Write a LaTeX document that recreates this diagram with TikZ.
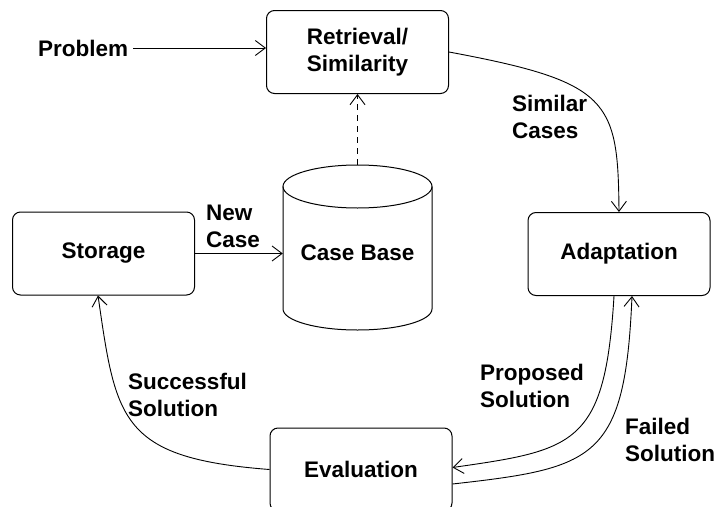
\documentclass[tikz,border=0pt]{standalone}
\usepackage{fontspec}
\setmainfont{Liberation Sans}
\usetikzlibrary{arrows.meta}
\begin{document}
\begin{tikzpicture}[x=1pt,y=-1pt,
  every node/.style={font=\bfseries\fontsize{22.5}{27}\selectfont},
  procbox/.style={draw,rounded corners=8pt,minimum width=182pt,minimum height=83pt,align=center,inner sep=0pt,line width=1pt},
  lbl/.style={align=left,anchor=west,inner sep=0pt},
  conn/.style={line width=0.9pt,-{Straight Barb[length=10pt,width=15pt]}}]
\clip (0,0) rectangle (717,506);
\fill[white] (0,0) rectangle (717,506);
% boxes
\node[procbox] (ret) at (357.5,52) {Retrieval/\\Similarity};
\node[procbox] (stor) at (103.5,253.5) {Storage};
\node[procbox] (adapt) at (619,254) {Adaptation};
\node[procbox] (eval) at (361,469.5) {Evaluation};
% case base cylinder
\node[minimum width=149pt,minimum height=165pt,inner sep=0pt] (cb) at (357.5,247.5) {};
\draw[line width=1pt,fill=white] (283,186.5) -- (283,309) arc[start angle=180,end angle=360,x radius=74.5,y radius=-21] -- (432,186.5);
\draw[line width=1pt] (357.5,186.5) ellipse [x radius=74.5, y radius=21.5];
\node at (357.5,253) {Case Base};
% text labels
\node[lbl] (prob) at (38,48) {Problem};
\node[lbl] (lsim) at (512,117) {Similar\\Cases};
\node[lbl] (lnew) at (206,226) {New\\Case};
\node[lbl] (lsucc) at (128,395) {Successful\\Solution};
\node[lbl] (lprop) at (480,386) {Proposed\\Solution};
\node[lbl] (lfail) at (625,440) {Failed\\Solution};
% connectors
\draw[conn] (prob.east) ++(5pt,0) coordinate (pe) (pe) -- (ret.west |- pe);
\draw[conn] (ret.east) .. controls (610,82) and (618,100) .. (adapt.north);
\draw[conn,dashed,dash pattern=on 6pt off 5pt] (cb.north) -- (ret.south);
\draw[conn] (stor.east) -- (stor.east -| cb.west);
\draw[conn] ([xshift=-5pt]adapt.south) .. controls (605,445) and (575,450) .. ([yshift=2pt]eval.east);
\draw[conn] ([yshift=-14.5pt]eval.east) .. controls (595,468) and (625,460) .. ([xshift=13pt]adapt.south);
\draw[conn] (eval.west) .. controls (120,458) and (116,420) .. ([xshift=-5.5pt]stor.south);
\end{tikzpicture}
\end{document}
